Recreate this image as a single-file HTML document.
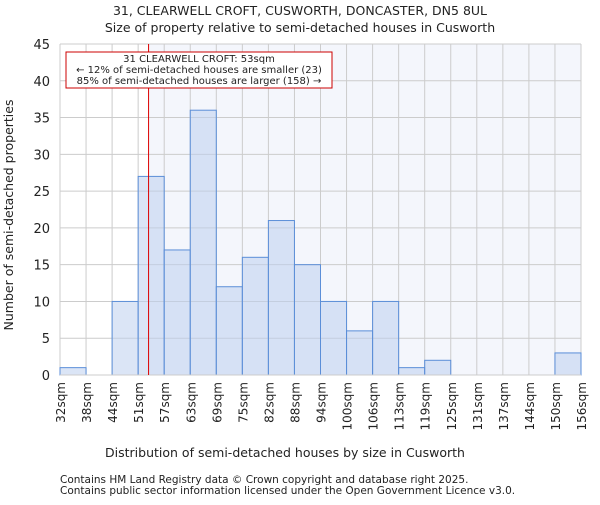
<!DOCTYPE html>
<html><head><meta charset="utf-8"><style>
body{margin:0;background:#fff;}
svg text{font-family:"DejaVu Sans","Liberation Sans",sans-serif;fill:#222;}
</style></head><body>
<svg width="600" height="500" xmlns="http://www.w3.org/2000/svg">
<g id="g"></g>
</svg>
<script>
const categories=["32sqm","38sqm","44sqm","51sqm","57sqm","63sqm","69sqm","75sqm","82sqm","88sqm","94sqm","100sqm","106sqm","113sqm","119sqm","125sqm","131sqm","137sqm","144sqm","150sqm","156sqm"];
const counts=[1,0,10,27,17,36,12,16,21,15,10,6,10,1,2,0,0,0,0,3];
const yTicks=[0,5,10,15,20,25,30,35,40,45];
const markerPos=3.4;
const X0=60,X1=581,Y0=375,Y1=44;
const n=counts.length;
const xs=i=>X0+(X1-X0)*i/n;
const ys=v=>Y0-(Y0-Y1)*v/45;
const g=document.getElementById('g');
const NS='http://www.w3.org/2000/svg';
function mk(t,a,txt){const e=document.createElementNS(NS,t);for(const k in a)e.setAttribute(k,a[k]);if(txt!==undefined)e.textContent=txt;g.appendChild(e);return e;}
let e;
e=mk('rect',{x:xs(markerPos),y:Y1,width:X1-xs(markerPos),height:Y0-Y1,fill:'#f4f6fc'});


for(const t of yTicks){e=mk('line',{x1:X0,x2:X1,y1:ys(t),y2:ys(t),stroke:'#cccccc','stroke-width':1});


e=mk('text',{x:50,y:ys(t)+5,'text-anchor':'end','font-size':13},t);

}
for(let i=0;i<=n;i++){e=mk('line',{x1:xs(i),x2:xs(i),y1:Y1,y2:Y0,stroke:'#cccccc','stroke-width':1});


e=mk('text',{transform:`translate(${xs(i)+5},${382}) rotate(-90)`,'text-anchor':'end','font-size':12},categories[i]);

}
counts.forEach((v,i)=>{if(v<=0)return;e=mk('rect',{x:xs(i),y:ys(v),width:xs(i+1)-xs(i),height:Y0-ys(v),fill:'rgba(190,207,238,0.55)',stroke:'#5b8ed8','stroke-width':1});

});
e=mk('line',{x1:X0,x2:X1,y1:Y0,y2:Y0,stroke:'#cccccc','stroke-width':1});


e=mk('line',{x1:xs(markerPos),x2:xs(markerPos),y1:Y1,y2:Y0,stroke:'#d00','stroke-width':1});


e=mk('rect',{x:66,y:52,width:266,height:36,fill:'#fff',stroke:'#c00','stroke-width':1});


[["31 CLEARWELL CROFT: 53sqm",62],["← 12% of semi-detached houses are smaller (23)",73],["85% of semi-detached houses are larger (158) →",84]].forEach(([t,y])=>{e=mk('text',{x:199,y:y,'text-anchor':'middle','font-size':10},t);

});
e=mk('text',{x:300,y:15,'text-anchor':'middle','font-size':12.5},'31, CLEARWELL CROFT, CUSWORTH, DONCASTER, DN5 8UL');


e=mk('text',{x:300,y:32,'text-anchor':'middle','font-size':12.5},'Size of property relative to semi-detached houses in Cusworth');


e=mk('text',{x:285,y:457,'text-anchor':'middle','font-size':12.5},'Distribution of semi-detached houses by size in Cusworth');


e=mk('text',{transform:'translate(13,215) rotate(-90)','text-anchor':'middle','font-size':12.5},'Number of semi-detached properties');


e=mk('text',{x:60,y:483,'font-size':10.5},'Contains HM Land Registry data © Crown copyright and database right 2025.');


e=mk('text',{x:60,y:494,'font-size':10.5},'Contains public sector information licensed under the Open Government Licence v3.0.');


</script>
</body></html>
